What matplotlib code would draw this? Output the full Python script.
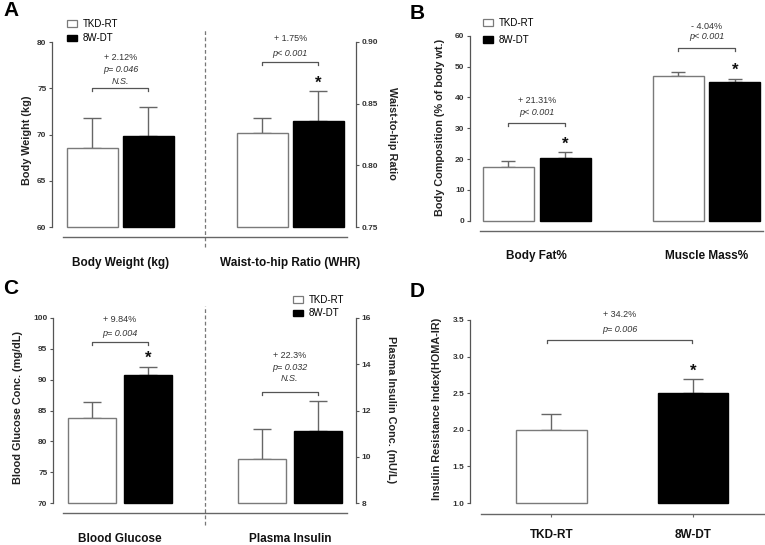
import numpy as np
import matplotlib
matplotlib.use('Agg')
import matplotlib.pyplot as plt
from matplotlib.patches import Patch

plt.rcParams['font.family'] = ['Liberation Sans', 'DejaVu Sans']

# ---- data ----
series = ['TKD-RT', '8W-DT']

cats_A = ['Body Weight (kg)', 'Waist-to-hip Ratio (WHR)']
bw_mean = [68.5, 69.85]
bw_err = [3.3, 3.1]
whr_mean = [0.826, 0.836]
whr_err = [0.012, 0.024]
bw_ticks = [60, 65, 70, 75, 80]
whr_ticks = [0.75, 0.80, 0.85, 0.90]

cats_B = ['Body Fat%', 'Muscle Mass%']
fat_mean = [17.3, 20.3]
fat_err = [2.1, 1.9]
muscle_mean = [46.9, 44.9]
muscle_err = [1.3, 1.2]
comp_ticks = [0, 10, 20, 30, 40, 50, 60]

cats_C = ['Blood Glucose', 'Plasma Insulin']
glu_mean = [83.8, 90.8]
glu_err = [2.5, 1.3]
ins_mean = [9.9, 11.1]
ins_err = [1.3, 1.3]
glu_ticks = [70, 75, 80, 85, 90, 95, 100]
ins_ticks = [8, 10, 12, 14, 16]

homa_mean = [2.0, 2.5]
homa_err = [0.21, 0.19]
homa_ticks = [1.0, 1.5, 2.0, 2.5, 3.0, 3.5]

# comparison labels: (texts, bracket level)
cmp_bw = (['+ 2.12%', 'p= 0.046', 'N.S.'], 75.0)
cmp_whr = (['+ 1.75%', 'p< 0.001'], 0.8835)
cmp_fat = (['+ 21.31%', 'p< 0.001'], 31.6)
cmp_mus = (['- 4.04%', 'p< 0.001'], 56.1)
cmp_glu = (['+ 9.84%', 'p= 0.004'], 96.1)
cmp_ins = (['+ 22.3%', 'p= 0.032', 'N.S.'], 12.8)
cmp_homa = (['+ 34.2%', 'p= 0.006'], 3.22)

# ---- layout helpers (pixel based) ----
W, H = 765, 545
fig = plt.figure(figsize=(W / 100, H / 100), dpi=100)

GREY = '#666666'
DARK = '#333333'


def px_ax(x0, y0, x1, y1):
    return fig.add_axes([x0 / W, 1 - y1 / H, (x1 - x0) / W, (y1 - y0) / H])


def ftext(x, y, s, **kw):
    fig.text(x / W, 1 - y / H, s, **kw)


def style_y(ax, ticks, fmt, side='left'):
    for s in ax.spines.values():
        s.set_visible(False)
    ax.spines[side].set_visible(True)
    ax.spines[side].set_color('#555555')
    ax.spines[side].set_linewidth(0.9)
    ax.set_yticks(ticks)
    ax.set_yticklabels([fmt.format(t) for t in ticks], fontweight='bold', color=DARK)
    ax.tick_params(axis='y', direction='out', length=2.5, width=0.8, color='#555555',
                   labelsize=6, pad=1.5)
    ax.patch.set_visible(False)


def style_x(ax, centers, labels, lo, hi, tick_len=0, pad=14, outward=7.4):
    sp = ax.spines['bottom']
    sp.set_visible(True)
    sp.set_position(('outward', outward))
    sp.set_bounds(lo, hi)
    sp.set_color(GREY)
    sp.set_linewidth(1.0)
    ax.set_xticks(centers)
    ax.set_xticklabels(labels)
    ax.tick_params(axis='x', length=tick_len, width=0.8, color=GREY, pad=pad)
    for lbl in ax.get_xticklabels():
        lbl.set_fontweight('bold')
        lbl.set_fontsize(8.5)
        lbl.set_color('#111111')


def draw_bars(ax, xs, means, errs, width, base, capsize):
    faces = ['white', 'black']
    edges = ['#7a7a7a', 'black']
    for i in range(len(xs)):
        ax.bar(xs[i], means[i] - base, width, bottom=base, color=faces[i],
               edgecolor=edges[i], linewidth=1.0, zorder=3, clip_on=False)
        ax.errorbar(xs[i], means[i], yerr=[[0], [errs[i]]], fmt='none', ecolor=GREY,
                    elinewidth=1.0, capsize=capsize, capthick=1.0, zorder=2)


def bracket(ax, x1, x2, cmp, offsets, ax_h_px, tick_px=3):
    texts, y = cmp
    lo, hi = ax.get_ylim()
    d = tick_px * (hi - lo) / ax_h_px
    ax.plot([x1, x1, x2, x2], [y - d, y, y, y - d], color='#555555', lw=0.9,
            clip_on=False, zorder=4)
    for s, off in zip(texts, offsets):
        ax.annotate(s, xy=((x1 + x2) / 2, y), xytext=(0, off * 0.72),
                    textcoords='offset points', ha='center', va='center',
                    fontsize=6.5, color=DARK,
                    style='normal' if s.startswith(('+', '-')) else 'italic')


def star(ax, x, top):
    ax.annotate('*', xy=(x, top), xytext=(0, 2.5), textcoords='offset points',
                ha='center', va='baseline', fontsize=12, fontweight='bold', color='#111111')


def legend(ax, x, y, spacing):
    handles = [Patch(facecolor='white', edgecolor='#7a7a7a', lw=0.9),
               Patch(facecolor='black', edgecolor='black')]
    ax.legend(handles, series, loc='upper left', bbox_to_anchor=(x / W, 1 - y / H),
              bbox_transform=fig.transFigure, frameon=False, fontsize=7,
              handlelength=1.05, handleheight=0.72, handletextpad=0.6,
              labelspacing=spacing, borderpad=0, borderaxespad=0)


def group_x(n_groups, off):
    c = np.arange(n_groups, dtype=float)
    return c, [(ci - off, ci + off) for ci in c]


# ================= Panel A =================
axA = px_ax(52, 42, 356, 227)
axA.set_xlim(-0.403, 1.388)
axA.set_ylim(60, 80)
axA2 = axA.twinx()
axA2.set_ylim(0.75, 0.90)
cA, pA = group_x(2, 0.165)
draw_bars(axA, pA[0], bw_mean, bw_err, 0.30, 60, 6.8)
draw_bars(axA2, pA[1], whr_mean, whr_err, 0.30, 0.75, 6.8)
style_y(axA, bw_ticks, '{:g}')
style_y(axA2, whr_ticks, '{:.2f}', side='right')
style_x(axA, cA, cats_A, -0.338, 1.335)
axA.axvline(0.5, ymin=-0.108, ymax=1.065, color='#777777', lw=0.9, ls=(0, (3, 2)),
            clip_on=False)
bracket(axA, pA[0][0], pA[0][1], cmp_bw, [31, 19, 7], 185)
bracket(axA2, pA[1][0], pA[1][1], cmp_whr, [24, 9.3], 185)
star(axA2, pA[1][1], whr_mean[1] + whr_err[1])
legend(axA2, 67, 19, 0.45)
ftext(27, 140, 'Body Weight (kg)', rotation=90, ha='center', va='center',
      fontsize=7.8, fontweight='bold', color='#222222')
ftext(392, 133, 'Waist-to-hip Ratio', rotation=270, ha='center', va='center',
      fontsize=7.8, fontweight='bold', color='#222222')
ftext(3, 1, 'A', ha='left', va='top', fontsize=15, fontweight='bold')

# ================= Panel B =================
axB = px_ax(470, 35.7, 765, 220.7)
axB.set_xlim(-0.393, 1.345)
axB.set_ylim(0, 60)
cB, pB = group_x(2, 0.167)
draw_bars(axB, pB[0], fat_mean, fat_err, 0.30, 0, 4.7)
draw_bars(axB, pB[1], muscle_mean, muscle_err, 0.30, 0, 4.7)
style_y(axB, comp_ticks, '{:g}')
style_x(axB, cB, cats_B, -0.334, 1.333)
bracket(axB, pB[0][0], pB[0][1], cmp_fat, [23, 10.6], 185)
bracket(axB, pB[1][0], pB[1][1], cmp_mus, [21.7, 11], 185)
star(axB, pB[0][1], fat_mean[1] + fat_err[1])
star(axB, pB[1][1], muscle_mean[1] + muscle_err[1])
legend(axB, 483, 18, 0.75)
ftext(440, 127, 'Body Composition (% of body wt.)', rotation=90, ha='center',
      va='center', fontsize=7.8, fontweight='bold', color='#222222')
ftext(410, 4, 'B', ha='left', va='top', fontsize=15, fontweight='bold')

# ================= Panel C =================
axC = px_ax(53, 318, 356, 503)
axC.set_xlim(-0.395, 1.390)
axC.set_ylim(70, 100)
axC2 = axC.twinx()
axC2.set_ylim(8, 16)
cC, pC = group_x(2, 0.165)
draw_bars(axC, pC[0], glu_mean, glu_err, 0.283, 70, 6.8)
draw_bars(axC2, pC[1], ins_mean, ins_err, 0.283, 8, 6.8)
style_y(axC, glu_ticks, '{:g}')
style_y(axC2, ins_ticks, '{:g}', side='right')
style_x(axC, cC, cats_C, -0.336, 1.337)
axC.axvline(0.5, ymin=-0.119, ymax=1.065, color='#777777', lw=0.9, ls=(0, (3, 2)),
            clip_on=False)
bracket(axC, pC[0][0], pC[0][1], cmp_glu, [23, 9], 185)
bracket(axC2, pC[1][0], pC[1][1], cmp_ins, [36.7, 25, 13.7], 185)
star(axC, pC[0][1], glu_mean[1] + glu_err[1])
legend(axC2, 293, 295, 0.35)
ftext(18, 407, 'Blood Glucose Conc. (mg/dL)', rotation=90, ha='center', va='center',
      fontsize=7.8, fontweight='bold', color='#222222')
ftext(391, 410, 'Plasma Insulin Conc. (mU/L)', rotation=270, ha='center', va='center',
      fontsize=7.8, fontweight='bold', color='#222222')
ftext(3, 279, 'C', ha='left', va='top', fontsize=15, fontweight='bold')

# ================= Panel D =================
axD = px_ax(470, 320, 765, 503)
axD.set_xlim(-0.576, 1.509)
axD.set_ylim(1.0, 3.5)
cD = np.arange(2, dtype=float)
draw_bars(axD, cD, homa_mean, homa_err, 0.50, 1.0, 7.2)
style_y(axD, homa_ticks, '{:.1f}')
style_x(axD, cD, series, -0.498, 1.509, tick_len=2.5, pad=8.5, outward=8)
bracket(axD, cD[0] - 0.03, cD[1] - 0.01, cmp_homa, [26, 11], 183)
star(axD, cD[1], homa_mean[1] + homa_err[1])
ftext(437, 409, 'Insulin Resistance Index(HOMA-IR)', rotation=90, ha='center',
      va='center', fontsize=7.8, fontweight='bold', color='#222222')
ftext(410, 282, 'D', ha='left', va='top', fontsize=15, fontweight='bold')

fig.savefig('out.png', dpi=100)
